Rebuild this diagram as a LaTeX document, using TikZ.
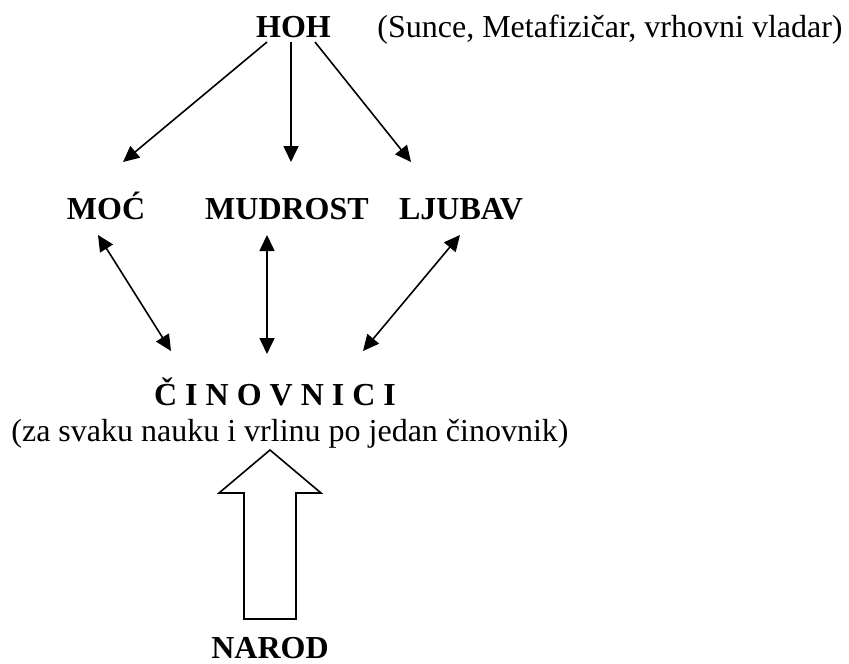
\documentclass[tikz,border=0pt]{standalone}
\usepackage{fontspec}
\setmainfont{Liberation Serif}
\usetikzlibrary{arrows.meta}
\begin{document}
\begin{tikzpicture}[x=1pt,y=-1pt,
  lbl/.style={inner sep=0pt,anchor=base,font=\fontsize{32}{38}\selectfont},
  blbl/.style={lbl,font=\fontsize{32}{38}\selectfont\bfseries},
  conn/.style={line width=1.6pt,-{Triangle[length=16pt,width=15pt]}},
  dconn/.style={line width=1.6pt,{Triangle[length=16pt,width=15pt]}-{Triangle[length=16pt,width=15pt]}},
  blockarrow/.style={line width=1.6pt,line join=miter,fill=white}]
\useasboundingbox (0,0) rectangle (849,664);
% texts
\node[blbl] (hoh) at (293.5,37) {HOH};
\node[lbl] (hohnote) at (610,37) {(Sunce, Metafizičar, vrhovni vladar)};
\node[blbl] (moc) at (106,219) {MOĆ};
\node[blbl] (mud) at (287,219) {MUDROST};
\node[blbl] (lju) at (461,219) {LJUBAV};
\node[blbl] (cin) at (275,405) {Č I N O V N I C I};
\node[lbl] (cinnote) at (290,441) {(za svaku nauku i vrlinu po jedan činovnik)};
\node[blbl] (nar) at (270,658) {NAROD};
% connector end points
\coordinate (h1) at (267,42);
\coordinate (h2) at (291,42);
\coordinate (h3) at (315,42);
\coordinate (m1) at (123,162);
\coordinate (m2) at (291,162);
\coordinate (m3) at (411,162);
\coordinate (u1) at (98,235);
\coordinate (u2) at (267,235);
\coordinate (u3) at (460,235);
\coordinate (c1) at (171,351);
\coordinate (c2) at (267,354);
\coordinate (c3) at (363,351);
\draw[conn] (h1) -- (m1);
\draw[conn] (h2) -- (m2);
\draw[conn] (h3) -- (m3);
\draw[dconn] (u1) -- (c1);
\draw[dconn] (u2) -- (c2);
\draw[dconn] (u3) -- (c3);
% block arrow from NAROD up to the officials
\draw[blockarrow] (244,619) -- (244,493) -- (219,493) -- (270,450) -- (321,493) -- (296,493) -- (296,619) -- cycle;
\end{tikzpicture}
\end{document}
